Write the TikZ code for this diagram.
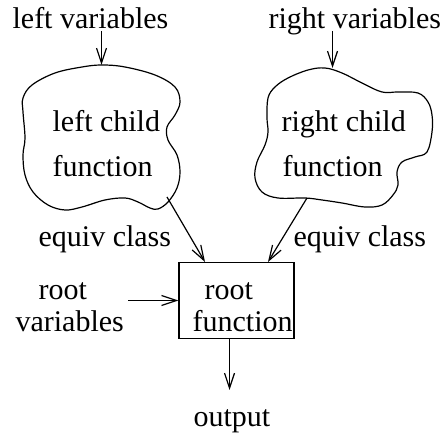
\documentclass[tikz,border=0pt]{standalone}
\usepackage{fontspec}
\setmainfont{Liberation Serif}
\usetikzlibrary{arrows.meta}
\begin{document}
\begin{tikzpicture}[x=1pt,y=-1pt, line width=1.2pt,
  txt/.style={inner sep=0pt, anchor=base west, font=\fontsize{30}{36}\selectfont},
  arr/.style={-{Straight Barb[length=15pt,width=10pt,line width=1.2pt]}},
  cloudline/.style={line width=1.2pt}]
\useasboundingbox (0,0) rectangle (445,435);
% texts
\node[txt] (lv) at (12,29) {left variables};
\node[txt] (rv) at (268,29) {right variables};
\node[txt] (lc1) at (52,132) {left child};
\node[txt] (lc2) at (52,177) {function};
\node[txt] (rc1) at (281,132) {right child};
\node[txt] (rc2) at (282,177) {function};
\node[txt] (eq1) at (38,247) {equiv class};
\node[txt] (eq2) at (293,247) {equiv class};
\node[txt] (rv1) at (38,300) {root};
\node[txt] (rv2) at (15,332) {variables};
\node[draw, line width=1.2pt, inner sep=0pt, minimum width=115pt, minimum height=76pt] (box) at (236.5,300.5) {};
\node[txt] (rf1) at (204,300) {root};
\node[txt] (rf2) at (192,332) {function};
\node[txt] (out) at (193,427) {output};
% clouds
\draw[cloudline] plot[smooth cycle, tension=0.6] coordinates {
 (102,65) (125,67) (155,75) (175,87) (180,102) (175,115) (167,127) (168,140)
 (177,155) (180,172) (177,188) (168,202) (158,209) (150,208) (138,202) (125,198)
 (105,200) (82,207) (65,210) (48,205) (33,192) (25,175) (23,155) (25,138)
 (23,112) (23,98) (32,85) (55,73) (82,67)};
\draw[cloudline] plot[smooth cycle, tension=0.6] coordinates {
 (288,78) (308,70) (325,68) (342,73) (362,83) (382,92) (398,92) (418,93)
 (428,102) (432,115) (432,132) (427,152) (415,157) (402,162) (397,172) (398,185)
 (393,195) (382,205) (365,207) (342,203) (322,200) (305,198) (278,198) (262,192)
 (255,178) (257,162) (265,145) (268,132) (267,118) (268,98) (275,87)};
% connector coordinates
\coordinate (lvs) at (101.5,31);
\coordinate (lct) at (101.5,65);
\coordinate (rvs) at (332.5,31);
\coordinate (rct) at (332.5,68);
\coordinate (lcb) at (167,197);
\coordinate (rcb) at (307,198);
\coordinate (bl) at (205,262);
\coordinate (br) at (268,262);
\coordinate (rvr) at (128,300.5);
\coordinate (boxl) at (box.west |- rvr);
\coordinate (boxb) at (box.south -| 229.5,0);
\coordinate (outt) at (229.5,390);
% connectors
\draw[arr] (lvs) -- (lct);
\draw[arr] (rvs) -- (rct);
\draw[arr] (lcb) -- (bl);
\draw[arr] (rcb) -- (br);
\draw[arr] (rvr) -- (boxl);
\draw[arr] (boxb) -- (outt);
\end{tikzpicture}
\end{document}
